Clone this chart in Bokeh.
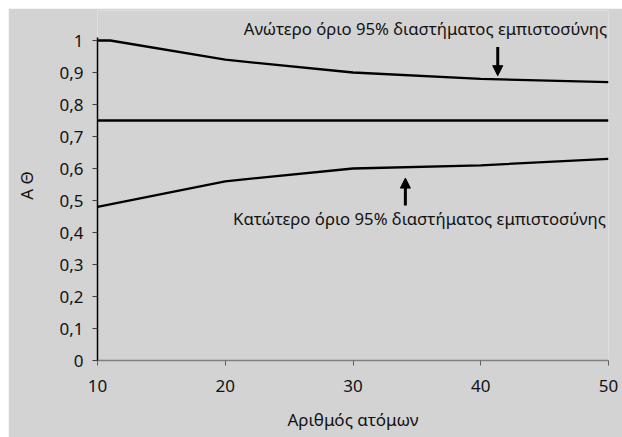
from bokeh.plotting import figure
from bokeh.models import Range1d, FixedTicker, Label, Arrow, NormalHead
from bokeh.embed import file_html
from bokeh.resources import INLINE

# data
n_upper = [10, 11, 20, 30, 40, 50]
upper = [1.0, 1.0, 0.94, 0.90, 0.88, 0.87]
n_mid = [10, 50]
mid = [0.75, 0.75]
n_lower = [10, 20, 30, 40, 50]
lower = [0.48, 0.56, 0.60, 0.61, 0.63]
x_ticks = [10, 20, 30, 40, 50]
y_ticks = [0, 0.1, 0.2, 0.3, 0.4, 0.5, 0.6, 0.7, 0.8, 0.9, 1.0]
y_tick_labels = ["0", "0,1", "0,2", "0,3", "0,4", "0,5", "0,6", "0,7", "0,8", "0,9", "1"]
upper_text = "Ανώτερο όριο 95% διαστήματος εμπιστοσύνης"
lower_text = "Κατώτερο όριο 95% διαστήματος εμπιστοσύνης"
x_title = "Αριθμός ατόμων"
y_title = "Α Θ"

FONT = "Noto Sans"
BG = "#d3d3d3"
TXT = "#111111"

p = figure(width=614, height=429, output_backend="svg", toolbar_location=None,
           x_range=Range1d(10, 50), y_range=Range1d(0, 1.09375),
           min_border_left=89, min_border_right=14, min_border_top=2, min_border_bottom=77)
p.margin = (8, 0, 0, 8)
p.background_fill_color = BG
p.border_fill_color = BG
p.outline_line_color = None
p.grid.visible = False

p.line(n_upper, upper, line_color="black", line_width=2.3)
p.line(n_mid, mid, line_color="black", line_width=2.3)
p.line(n_lower, lower, line_color="black", line_width=2.3)

xa = p.xaxis[0]
xa.ticker = FixedTicker(ticks=x_ticks)
xa.axis_line_color = "#808080"
xa.axis_line_width = 1.5
xa.major_tick_line_color = "#606060"
xa.major_tick_in = 0
xa.major_tick_out = 5
xa.minor_tick_line_color = None
xa.major_label_standoff = 14
xa.major_label_text_font = FONT
xa.major_label_text_font_size = "17px"
xa.major_label_text_color = TXT
xa.axis_label = x_title
xa.axis_label_text_font = FONT
xa.axis_label_text_font_size = "17px"
xa.axis_label_text_font_style = "normal"
xa.axis_label_text_color = TXT
xa.axis_label_standoff = 13

ya = p.yaxis[0]
ya.ticker = FixedTicker(ticks=y_ticks)
ya.bounds = (0, 1.01)
ya.major_label_overrides = {t: l for t, l in zip(y_ticks, y_tick_labels)}
ya.axis_line_color = "black"
ya.axis_line_width = 1.5
ya.major_tick_line_color = "#404040"
ya.major_tick_in = 0
ya.major_tick_out = 5
ya.minor_tick_line_color = None
ya.major_label_standoff = 9
ya.major_label_text_font = FONT
ya.major_label_text_font_size = "17px"
ya.major_label_text_color = TXT
ya.axis_label = y_title
ya.axis_label_text_font = FONT
ya.axis_label_text_font_size = "17px"
ya.axis_label_text_font_style = "normal"
ya.axis_label_text_color = TXT
ya.axis_label_standoff = 18

p.add_layout(Label(x=35.67, y=1.0375, text=upper_text, text_align="center",
                   text_baseline="middle", text_font=FONT, text_font_size="16.7px",
                   text_color=TXT))
p.add_layout(Label(x=35.2, y=0.444, text=lower_text, text_align="center",
                   text_baseline="middle", text_font=FONT, text_font_size="16.7px",
                   text_color=TXT))

p.add_layout(Arrow(x_start=41.33, y_start=0.98, x_end=41.33, y_end=0.89,
                   line_width=3, line_color="black",
                   end=NormalHead(size=10, fill_color="black", line_color="black")))
p.add_layout(Arrow(x_start=34.1, y_start=0.484, x_end=34.1, y_end=0.57,
                   line_width=3, line_color="black",
                   end=NormalHead(size=10, fill_color="black", line_color="black")))

open("out.html", "w").write(file_html(p, INLINE))
